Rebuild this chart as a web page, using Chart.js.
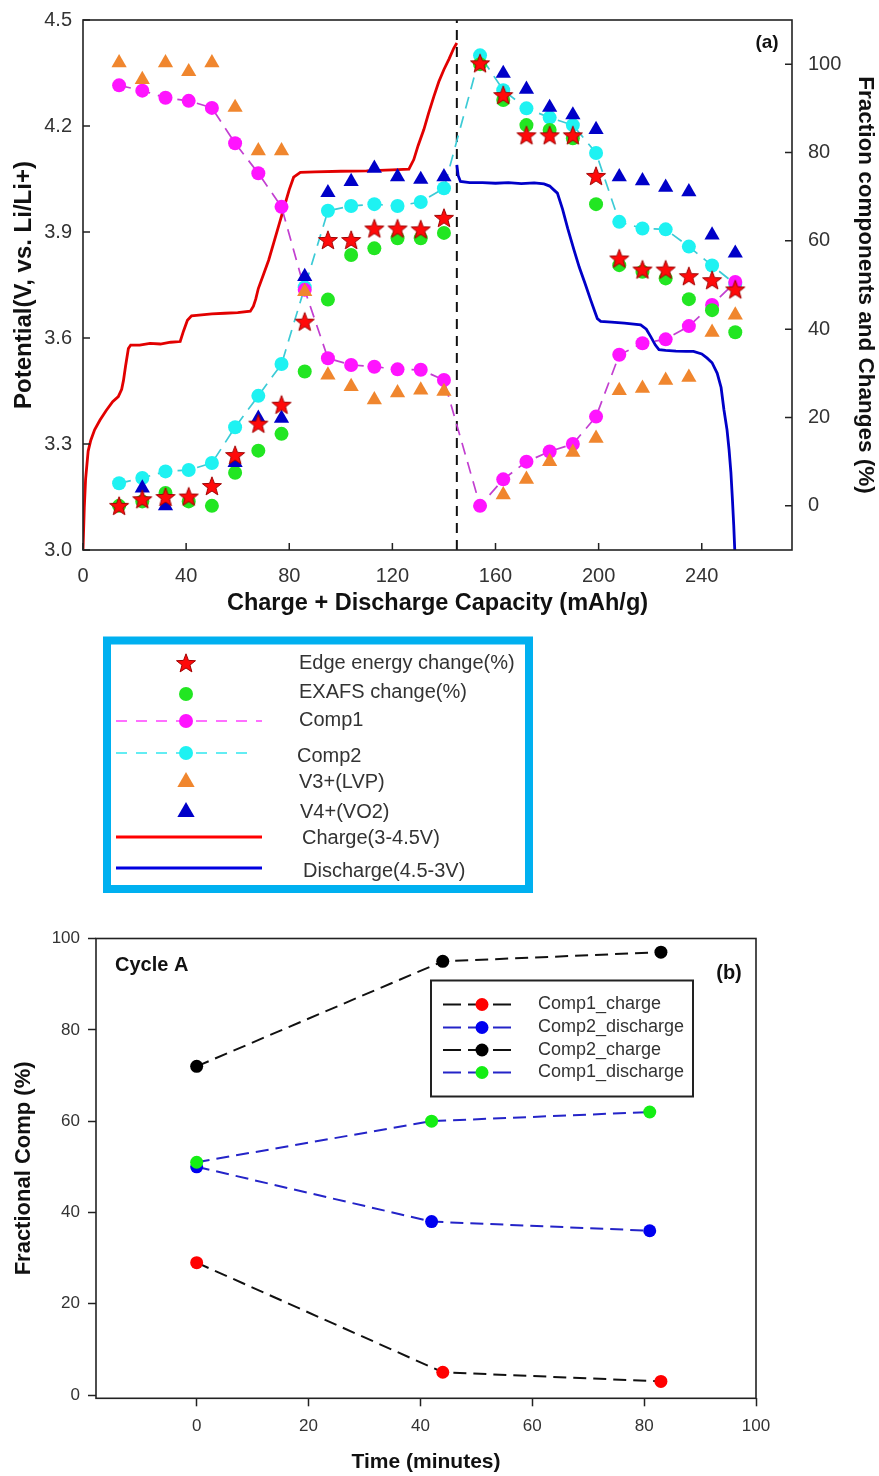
<!DOCTYPE html>
<html><head><meta charset="utf-8">
<script src="https://cdn.jsdelivr.net/npm/chart.js@4.4.1/dist/chart.umd.min.js"></script>
<style>
html,body{margin:0;padding:0;background:#fff;}
#wrap{position:relative;width:879px;height:1476px;overflow:hidden;}
canvas{position:absolute;left:0;}
#ca{top:0;}
#cb{top:900px;}
</style></head>
<body><div id="wrap"><canvas id="ca" width="879" height="900"></canvas><canvas id="cb" width="879" height="576"></canvas></div>
<script>
const FONT = "'Liberation Sans', Arial, Helvetica, sans-serif";

// ================= Panel (a) data =================
const capacityCharge    = [14, 23, 32, 41, 50, 59, 68, 77, 86, 95, 104, 113, 122, 131, 140];
const capacityDischarge = [154, 163, 172, 181, 190, 199, 208, 217, 226, 235, 244, 253];
const edgeEnergy = [0, 1.5, 2.0, 2.1, 4.5, 11.5, 18.6, 22.9, 41.7, 60.2, 60.2, 62.8, 62.8, 62.6, 65.2,
                    100.2, 93.0, 83.9, 83.9, 83.9, 74.7, 56.0, 53.5, 53.5, 52.0, 51.1, 49.0];
const exafs      = [0, 1.0, 2.9, 1.0, 0, 7.5, 12.5, 16.3, 30.4, 46.7, 56.8, 58.3, 60.6, 60.6, 61.8,
                    100, 91.9, 86.2, 85.1, 83.2, 68.3, 54.5, 53.0, 51.5, 46.8, 44.3, 39.3];
const comp1      = [95.2, 94.0, 92.4, 91.7, 90.1, 82.1, 75.3, 67.7, 48.9, 33.4, 31.9, 31.5, 30.9, 30.8, 28.5,
                    0, 6.0, 10.0, 12.3, 14.0, 20.2, 34.2, 36.8, 37.7, 40.7, 45.5, 50.7];
const comp2      = [5.1, 6.3, 7.8, 8.1, 9.7, 17.8, 24.9, 32.1, 49.5, 66.8, 67.9, 68.3, 67.9, 68.8, 71.9,
                    102, 94.1, 90.0, 87.9, 86.2, 79.9, 64.3, 62.8, 62.6, 58.7, 54.4, 50.2];
const v3LVP      = [100.3, 96.5, 100.3, 98.3, 100.3, 90.2, 80.4, 80.4, 48.5, 29.6, 27.0, 24.0, 25.6, 26.2, 25.9,
                    null, 2.5, 6.0, 10.0, 12.1, 15.3, 26.1, 26.6, 28.4, 29.1, 39.3, 43.2];
const v4VO2      = [null, 4.0, 0, null, null, 9.8, 19.8, 19.8, 51.9, 70.9, 73.4, 76.4, 74.5, 73.9, 74.5,
                    null, 97.9, 94.3, 90.2, 88.5, 85.2, 74.5, 73.6, 72.1, 71.1, 61.3, 57.2];

const chargeCapacity  = [0, 0.5, 1, 2, 3, 4.5, 6.6, 9, 11.5, 13.7, 15, 15.7, 16.5, 17.6, 18.5, 22, 26, 30, 34, 37.7,
                         39, 40.5, 42.1, 45, 50, 55, 60, 64.9, 66.1, 67, 68, 70, 72, 74, 76, 78, 80, 81.7, 84.3,
                         90, 100, 110, 120, 126.4, 128.3, 130, 132.2, 134, 136.1, 138, 140, 142, 143.8, 145];
const chargePotential = [3.0, 3.12, 3.2, 3.28, 3.31, 3.34, 3.368, 3.395, 3.42, 3.434, 3.455, 3.48, 3.52, 3.57, 3.58,
                         3.58, 3.585, 3.583, 3.588, 3.59, 3.62, 3.65, 3.663, 3.665, 3.668, 3.67, 3.672, 3.676, 3.69,
                         3.71, 3.74, 3.78, 3.82, 3.87, 3.92, 3.97, 4.02, 4.055, 4.069, 4.07, 4.072, 4.073, 4.076,
                         4.078, 4.105, 4.145, 4.19, 4.235, 4.284, 4.325, 4.36, 4.39, 4.42, 4.435];
const dischargeCapacity  = [145, 145.5, 146.4, 150, 155, 160, 165, 170, 175, 178.8, 181, 182.5, 184, 186, 188, 190.4,
                            192.5, 194.7, 196.9, 198.5, 199.5, 200.8, 205, 210, 216.3, 218.5, 220.2, 222, 223.4, 226,
                            230, 234, 236.8, 240, 242.1, 244, 246, 247.5, 248.6, 249.8, 250.6, 251.3, 251.9, 252.4, 252.8];
const dischargePotential = [4.09, 4.06, 4.043, 4.04, 4.04, 4.038, 4.04, 4.037, 4.039, 4.036, 4.03, 4.02, 4.01, 3.965,
                            3.91, 3.85, 3.80, 3.755, 3.708, 3.675, 3.655, 3.647, 3.645, 3.642, 3.637, 3.625, 3.604,
                            3.58, 3.567, 3.565, 3.563, 3.562, 3.562, 3.555, 3.543, 3.53, 3.50, 3.46, 3.397, 3.34,
                            3.283, 3.22, 3.142, 3.07, 3.0];
const dividerCapacity = 145;
const capacityTicks  = [0, 40, 80, 120, 160, 200, 240];
const potentialTicks = [3.0, 3.3, 3.6, 3.9, 4.2, 4.5];
const percentTicks   = [0, 20, 40, 60, 80, 100];

// ================= Panel (b) data =================
const timeCharge     = [0, 44, 83];
const timeDischarge  = [0, 42, 81];
const comp1Charge    = [29, 5, 3];
const comp2Discharge = [50, 38, 36];
const comp2Charge    = [72, 95, 97];
const comp1Discharge = [51, 60, 62];
const timeTicks = [0, 20, 40, 60, 80, 100];
const fracTicks = [0, 20, 40, 60, 80, 100];

// ================= helpers =================
const pts = (xs, ys) => xs.map((x, i) => ({x: x, y: ys[i]})).filter(p => p.y !== null && p.y !== undefined);
const setTicks = vals => scale => { scale.ticks = vals.map(v => ({value: v})); };
const fixWidth = w => s => { s.width = w; s.paddingTop = 0; s.paddingBottom = 0; };

function makeStar(R, r, fill, stroke) {
  const c = document.createElement('canvas');
  const s = Math.ceil(2 * R + 4);
  c.width = s; c.height = s;
  const g = c.getContext('2d');
  g.translate(s / 2, s / 2 + 0.8);
  g.beginPath();
  for (let i = 0; i < 10; i++) {
    const rad = (i % 2) ? r : R;
    const a = -Math.PI / 2 + i * Math.PI / 5;
    g.lineTo(rad * Math.cos(a), rad * Math.sin(a));
  }
  g.closePath();
  g.fillStyle = fill; g.fill();
  g.lineWidth = 1; g.strokeStyle = stroke; g.stroke();
  return c;
}
const starImg = makeStar(10, 4.2, '#FF0A0A', '#A00000');

function drawMarker(ctx, kind, x, y, r, color) {
  ctx.save();
  ctx.fillStyle = color;
  if (kind === 'star') {
    ctx.drawImage(starImg, x - starImg.width / 2, y - starImg.height / 2);
  } else if (kind === 'triangle') {
    ctx.beginPath();
    for (let i = 0; i < 3; i++) {
      const a = -Math.PI / 2 + i * 2 * Math.PI / 3;
      ctx.lineTo(x + r * Math.cos(a), y + r * Math.sin(a));
    }
    ctx.closePath(); ctx.fill();
  } else {
    ctx.beginPath(); ctx.arc(x, y, r, 0, Math.PI * 2); ctx.fill();
  }
  ctx.restore();
}

function frameAndTicks(inward) {
  return {
    id: 'frame',
    afterDraw(chart) {
      const ctx = chart.ctx, a = chart.chartArea;
      ctx.save();
      ctx.strokeStyle = '#222'; ctx.lineWidth = 1.6;
      ctx.strokeRect(a.left, a.top, a.right - a.left, a.bottom - a.top);
      if (inward) {
        ctx.lineWidth = 1.5;
        ctx.beginPath();
        const sx = chart.scales.x;
        sx.ticks.forEach(t => { const p = sx.getPixelForValue(t.value); ctx.moveTo(p, a.bottom); ctx.lineTo(p, a.bottom - 7); });
        const yl = chart.scales.yV;
        yl.ticks.forEach(t => { const p = yl.getPixelForValue(t.value); ctx.moveTo(a.left, p); ctx.lineTo(a.left + 7, p); });
        const yr = chart.scales.yP;
        yr.ticks.forEach(t => { const p = yr.getPixelForValue(t.value); ctx.moveTo(a.right, p); ctx.lineTo(a.right - 7, p); });
        ctx.stroke();
      }
      ctx.restore();
    }
  };
}

// ================= Chart (a) =================
const capAll = capacityCharge.concat(capacityDischarge);
const dsA = [
  {label: 'Edge energy change(%)', data: pts(capAll, edgeEnergy), yAxisID: 'yP', showLine: false,
   pointStyle: starImg, pointRadius: 10, order: 1, legendKind: 'star', legendColor: '#FF0000'},
  {label: 'EXAFS change(%)', data: pts(capAll, exafs), yAxisID: 'yP', showLine: false,
   pointStyle: 'circle', pointRadius: 7, pointBackgroundColor: '#22E622', pointBorderWidth: 0,
   order: 4, legendKind: 'circle', legendColor: '#22E622'},
  {label: 'Comp1', data: pts(capAll, comp1), yAxisID: 'yP', showLine: true,
   borderColor: '#C23FD0', borderWidth: 1.7, borderDash: [12, 8],
   pointStyle: 'circle', pointRadius: 7, pointBackgroundColor: '#FF14FF', pointBorderWidth: 0,
   order: 6, legendKind: 'circle', legendColor: '#FF14FF', legendLine: '#FF40FF'},
  {label: 'Comp2', data: pts(capAll, comp2), yAxisID: 'yP', showLine: true,
   borderColor: '#3CCBD6', borderWidth: 1.7, borderDash: [12, 8],
   pointStyle: 'circle', pointRadius: 7, pointBackgroundColor: '#1EF2F2', pointBorderWidth: 0,
   order: 7, legendKind: 'circle', legendColor: '#1EF2F2', legendLine: '#30E8F0'},
  {label: 'V3+(LVP)', data: pts(capAll, v3LVP), yAxisID: 'yP', showLine: false,
   pointStyle: 'triangle', pointRadius: 8.8, pointBackgroundColor: '#F0862E', pointBorderWidth: 0,
   order: 5, legendKind: 'triangle', legendColor: '#F0862E'},
  {label: 'V4+(VO2)', data: pts(capAll, v4VO2), yAxisID: 'yP', showLine: false,
   pointStyle: 'triangle', pointRadius: 8.8, pointBackgroundColor: '#0000C8', pointBorderWidth: 0,
   order: 3, legendKind: 'triangle', legendColor: '#0000C8'},
  {label: 'Charge(3-4.5V)', data: pts(chargeCapacity, chargePotential), yAxisID: 'yV', showLine: true,
   borderColor: '#E20000', borderWidth: 2.8, pointRadius: 0, order: 9, legendKind: 'line', legendLine: '#FF0000'},
  {label: 'Discharge(4.5-3V)', data: pts(dischargeCapacity, dischargePotential), yAxisID: 'yV', showLine: true,
   borderColor: '#0000C8', borderWidth: 2.8, pointRadius: 0, order: 9, legendKind: 'line', legendLine: '#0000E0'},
  {label: '', data: [{x: dividerCapacity, y: 3.0}, {x: dividerCapacity, y: 4.5}], yAxisID: 'yV', showLine: true,
   borderColor: '#111', borderWidth: 2, borderDash: [10, 7], pointRadius: 0, order: 10, noLegend: true}
];

// legend row geometry (style only)
const legA = {
  box: {x: 107, y: 640.5, w: 422, h: 248.5, lw: 8, color: '#00B0F0'},
  markerX: 186, lineX0: 116, lineX1: 262,
  rowY: [663, 694, 721, 753, 782, 812, 837, 868],
  textX: [299, 299, 299, 297, 299, 300, 302, 303],
  textY: [663, 692, 720, 756, 782, 812, 838, 871]
};

const legendAPlugin = {
  id: 'legendA',
  afterDraw(chart) {
    const ctx = chart.ctx;
    ctx.save();
    const b = legA.box;
    ctx.strokeStyle = b.color; ctx.lineWidth = b.lw;
    ctx.strokeRect(b.x, b.y, b.w, b.h);
    const items = chart.data.datasets.filter(d => !d.noLegend);
    items.forEach((d, i) => {
      const y = legA.rowY[i];
      if (d.legendLine) {
        ctx.save();
        ctx.strokeStyle = d.legendLine;
        ctx.lineWidth = d.legendKind === 'line' ? 3 : 1.6;
        ctx.setLineDash(d.legendKind === 'line' ? [] : [11, 9]);
        ctx.beginPath();
        ctx.moveTo(legA.lineX0, y); ctx.lineTo(d.legendKind === 'line' ? legA.lineX1 : legA.lineX1 - (i === 3 ? 12 : 0), y);
        ctx.stroke();
        ctx.restore();
      }
      if (d.legendKind !== 'line') drawMarker(ctx, d.legendKind, legA.markerX, y, d.legendKind === 'triangle' ? 10 : 7, d.legendColor);
      ctx.fillStyle = '#333';
      ctx.font = '20px ' + FONT;
      ctx.textBaseline = 'middle'; ctx.textAlign = 'left';
      ctx.fillText(d.label, legA.textX[i], legA.textY[i]);
    });
    // panel tag
    ctx.fillStyle = '#111';
    ctx.font = 'bold 19px ' + FONT;
    ctx.textAlign = 'center'; ctx.textBaseline = 'middle';
    ctx.fillText('(a)', 767, 43);
    ctx.restore();
  }
};

const tickFontA = {family: FONT, size: 20};
new Chart(document.getElementById('ca'), {
  type: 'scatter',
  data: {datasets: dsA},
  options: {
    responsive: false, animation: false, devicePixelRatio: 1,
    layout: {padding: {top: 20, bottom: 280, left: 0, right: 0}},
    plugins: {legend: {display: false}, tooltip: {enabled: false}},
    elements: {line: {tension: 0}},
    scales: {
      x: {type: 'linear', min: 0, max: 275,
          afterBuildTicks: setTicks(capacityTicks), afterFit: s => { s.height = 70; },
          grid: {display: false, drawTicks: false}, border: {display: false},
          ticks: {font: tickFontA, color: '#333', padding: 14, autoSkip: false, maxRotation: 0},
          title: {display: true, text: 'Charge + Discharge Capacity (mAh/g)', color: '#111',
                  font: {family: FONT, size: 23.5, weight: 'bold'}, padding: {top: 0, bottom: 2}}},
      yV: {type: 'linear', position: 'left', min: 3.0, max: 4.5,
           afterBuildTicks: setTicks(potentialTicks), afterFit: fixWidth(83),
           grid: {display: false, drawTicks: false}, border: {display: false},
           ticks: {font: tickFontA, color: '#333', padding: 11, autoSkip: false, callback: v => Number(v).toFixed(1)},
           title: {display: true, text: 'Potential(V, vs. Li/Li+)', color: '#111',
                   font: {family: FONT, size: 24, weight: 'bold'}, padding: {top: 10, bottom: 0}}},
      yP: {type: 'linear', position: 'right', min: -10, max: 110,
           afterBuildTicks: setTicks(percentTicks), afterFit: fixWidth(87),
           grid: {display: false, drawTicks: false}, border: {display: false},
           ticks: {font: tickFontA, color: '#333', padding: 16, autoSkip: false},
           title: {display: true, text: 'Fraction components and Changes (%)', color: '#111',
                   font: {family: FONT, size: 22.5, weight: 'bold'}, padding: {top: 0, bottom: 0}}}
    }
  },
  plugins: [frameAndTicks(true), legendAPlugin]
});

// ================= Chart (b) =================
const dsB = [
  {label: 'Comp1_charge', data: pts(timeCharge, comp1Charge), borderColor: '#111', pointBackgroundColor: '#FF0000', order: 2},
  {label: 'Comp2_discharge', data: pts(timeDischarge, comp2Discharge), borderColor: '#2424C8', pointBackgroundColor: '#0000F0', order: 3},
  {label: 'Comp2_charge', data: pts(timeCharge, comp2Charge), borderColor: '#111', pointBackgroundColor: '#000000', order: 4},
  {label: 'Comp1_discharge', data: pts(timeDischarge, comp1Discharge), borderColor: '#2424C8', pointBackgroundColor: '#14EE14', order: 1}
].map(d => Object.assign(d, {showLine: true, borderWidth: 2, borderDash: [13, 7], pointRadius: 6.5,
                              pointBorderWidth: 0, pointStyle: 'circle'}));

const legB = {box: {x: 431, y: 80.5, w: 262, h: 116}, lineX0: 443, lineX1: 512, markerX: 482,
              rowY: [104.5, 127.5, 150, 172.5], textX: 538};

const legendBPlugin = {
  id: 'legendB',
  afterDraw(chart) {
    const ctx = chart.ctx;
    ctx.save();
    ctx.fillStyle = '#fff';
    const b = legB.box;
    ctx.fillRect(b.x, b.y, b.w, b.h);
    ctx.strokeStyle = '#222'; ctx.lineWidth = 2;
    ctx.strokeRect(b.x, b.y, b.w, b.h);
    chart.data.datasets.forEach((d, i) => {
      const y = legB.rowY[i];
      ctx.save();
      ctx.strokeStyle = d.borderColor; ctx.lineWidth = 2; ctx.setLineDash([18, 7]);
      ctx.beginPath(); ctx.moveTo(legB.lineX0, y); ctx.lineTo(legB.lineX1, y); ctx.stroke();
      ctx.restore();
      drawMarker(ctx, 'circle', legB.markerX, y, 6.5, d.pointBackgroundColor);
      ctx.fillStyle = '#333'; ctx.font = '18px ' + FONT;
      ctx.textAlign = 'left'; ctx.textBaseline = 'middle';
      ctx.fillText(d.label, legB.textX, y);
    });
    ctx.fillStyle = '#111';
    ctx.font = 'bold 20px ' + FONT;
    ctx.textAlign = 'left'; ctx.textBaseline = 'middle';
    ctx.fillText('Cycle A', 115, 65);
    ctx.textAlign = 'center';
    ctx.fillText('(b)', 729, 73);
    ctx.restore();
  }
};

const tickFontB = {family: FONT, size: 17};
new Chart(document.getElementById('cb'), {
  type: 'scatter',
  data: {datasets: dsB},
  options: {
    responsive: false, animation: false, devicePixelRatio: 1,
    layout: {padding: {top: 38.5, bottom: 0, left: 0, right: 123}},
    plugins: {legend: {display: false}, tooltip: {enabled: false}},
    elements: {line: {tension: 0}},
    scales: {
      x: {type: 'linear', min: -18, max: 100,
          afterBuildTicks: setTicks(timeTicks), afterFit: s => { s.height = 77.7; },
          grid: {display: true, drawOnChartArea: false, drawTicks: true, tickLength: 8, tickColor: '#222', tickWidth: 1.5},
          border: {display: false},
          ticks: {font: tickFontB, color: '#333', padding: 10, autoSkip: false, maxRotation: 0},
          title: {display: true, text: 'Time (minutes)', color: '#111',
                  font: {family: FONT, size: 21, weight: 'bold'}, padding: {top: 0, bottom: 1}}},
      y: {type: 'linear', position: 'left', min: -0.7, max: 100,
          afterBuildTicks: setTicks(fracTicks), afterFit: fixWidth(96),
          grid: {display: true, drawOnChartArea: false, drawTicks: true, tickLength: 8, tickColor: '#222', tickWidth: 1.5},
          border: {display: false},
          ticks: {font: tickFontB, color: '#333', padding: 8, autoSkip: false},
          title: {display: true, text: 'Fractional Comp (%)', color: '#111',
                  font: {family: FONT, size: 22, weight: 'bold'}, padding: {top: 11, bottom: 0}}}
    }
  },
  plugins: [frameAndTicks(false), legendBPlugin]
});
</script>
</body></html>
